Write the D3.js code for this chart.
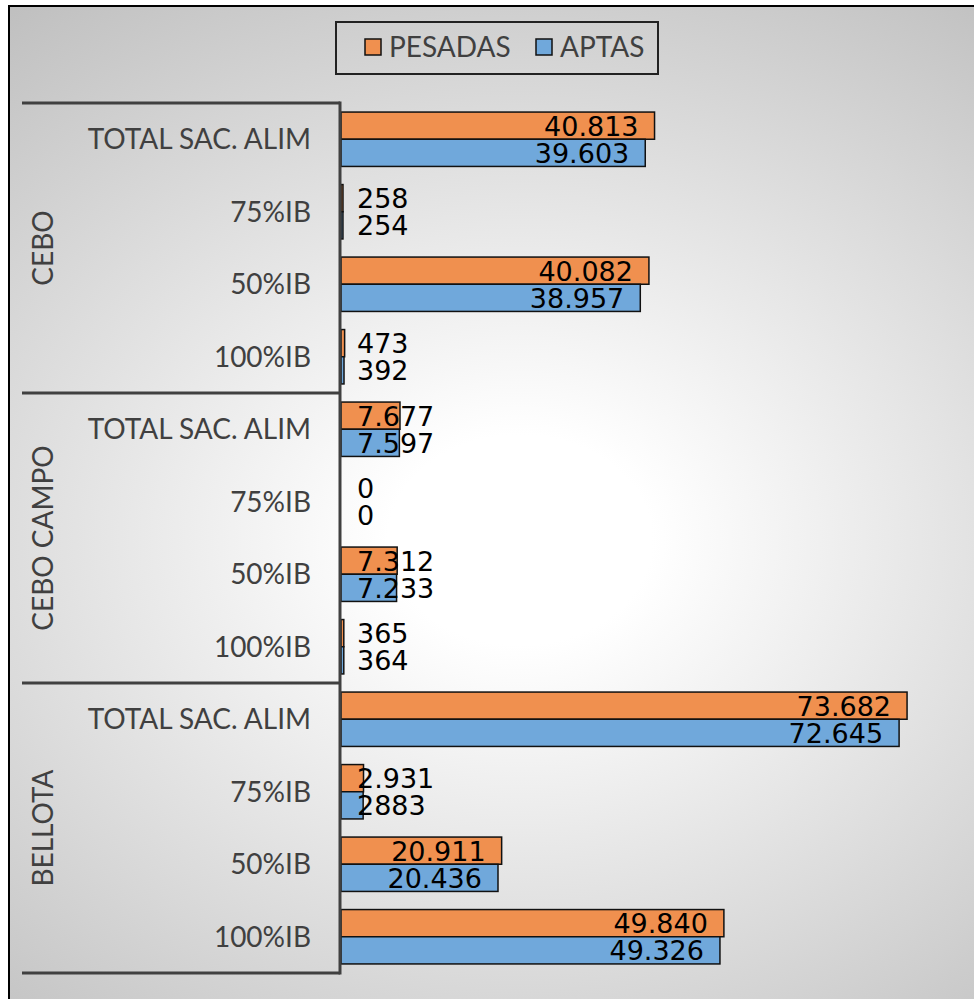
<!DOCTYPE html>
<html><head><meta charset="utf-8">
<script src="https://cdn.jsdelivr.net/npm/d3@7"></script>
<style>html,body{margin:0;padding:0;background:#fff;overflow:hidden}</style>
</head><body>
<svg id="c" width="974" height="999"></svg>
<script>
const groups = ["CEBO", "CEBO CAMPO", "BELLOTA"];
const categories = ["TOTAL SAC. ALIM", "75%IB", "50%IB", "100%IB"];
const series = ["PESADAS", "APTAS"];
// values per group, in category order
const pesadas = {
  "CEBO": [40813, 258, 40082, 473],
  "CEBO CAMPO": [7677, 0, 7312, 365],
  "BELLOTA": [73682, 2931, 20911, 49840]
};
const aptas = {
  "CEBO": [39603, 254, 38957, 392],
  "CEBO CAMPO": [7597, 0, 7233, 364],
  "BELLOTA": [72645, 2883, 20436, 49326]
};
const pesadasLabels = {
  "CEBO": ["40.813", "258", "40.082", "473"],
  "CEBO CAMPO": ["7.677", "0", "7.312", "365"],
  "BELLOTA": ["73.682", "2.931", "20.911", "49.840"]
};
const aptasLabels = {
  "CEBO": ["39.603", "254", "38.957", "392"],
  "CEBO CAMPO": ["7.597", "0", "7.233", "364"],
  "BELLOTA": ["72.645", "2883", "20.436", "49.326"]
};
const colors = {"PESADAS": "#F0904F", "APTAS": "#70A8DB"};
const xMax = 80000;

const svg = d3.select("#c");
const defs = svg.append("defs");
const grad = defs.append("radialGradient").attr("id", "bg")
  .attr("gradientUnits", "userSpaceOnUse").attr("cx", 0).attr("cy", 0).attr("r", 1)
  .attr("gradientTransform", "translate(520,540) scale(880,700)");
grad.append("stop").attr("offset", 0).attr("stop-color", "#ffffff");
grad.append("stop").attr("offset", 0.15).attr("stop-color", "#ffffff");
grad.append("stop").attr("offset", 1).attr("stop-color", "#bcbcbc");

svg.append("rect").attr("x", 9).attr("y", 6).attr("width", 1000).attr("height", 1020)
  .attr("fill", "url(#bg)").attr("stroke", "#000").attr("stroke-width", 2);

const x0 = 341;
const x = d3.scaleLinear().domain([0, xMax]).range([x0, x0 + 614.6]);

const rows = [];
groups.forEach(g => categories.forEach((c, i) => rows.push({g, c, i, key: g + "|" + c})));

const yTop = 103, yBot = 973;
const yRow = d3.scaleBand().domain(rows.map(r => r.key)).range([yTop, yBot])
  .paddingInner(0.25).paddingOuter(0.125);
const ySer = d3.scaleBand().domain(series).range([0, yRow.bandwidth()]);
const yGroup = d3.scaleBand().domain(groups).range([yTop, yBot]);
const step = yRow.step();

const textCol = "#404040";

// bars
const barData = [];
rows.forEach(r => {
  series.forEach(s => {
    const v = s === "PESADAS" ? pesadas[r.g][r.i] : aptas[r.g][r.i];
    const lab = s === "PESADAS" ? pesadasLabels[r.g][r.i] : aptasLabels[r.g][r.i];
    barData.push({r, s, v, lab});
  });
});

const bars = svg.append("g");
bars.selectAll("rect").data(barData.filter(d => d.v > 0)).join("rect")
  .attr("x", x(0))
  .attr("y", d => yRow(d.r.key) + ySer(d.s))
  .attr("width", d => x(d.v) - x(0))
  .attr("height", ySer.bandwidth())
  .attr("fill", d => colors[d.s])
  .attr("stroke", "#111").attr("stroke-width", 1.5);

// data labels
const labG = svg.append("g").attr("font-family", "DejaVu Sans").attr("font-size", 27).attr("fill", "#000");
labG.selectAll("text").data(barData).join("text")
  .text(d => d.lab)
  .attr("y", d => yRow(d.r.key) + ySer(d.s) + ySer.bandwidth() / 2 + 10)
  .attr("text-anchor", "end")
  .each(function(d) {
    const w = this.getComputedTextLength();
    const right = Math.max(x(d.v) - 16, x0 + 16 + w);
    d3.select(this).attr("x", right);
  });

// axis & separators
const axG = svg.append("g").attr("stroke", "#404040").attr("stroke-width", 3);
axG.append("line").attr("x1", 340).attr("x2", 340).attr("y1", yTop - 1.5).attr("y2", yBot + 1.5);
const seps = groups.map(g => yGroup(g)).concat([yBot]);
axG.selectAll("line.sep").data(seps).join("line").attr("class", "sep")
  .attr("x1", 22).attr("x2", 340).attr("y1", d => d).attr("y2", d => d);

// category labels
svg.append("g").attr("font-family", "Lato").attr("font-size", 28).attr("fill", textCol)
  .selectAll("text").data(rows).join("text")
  .attr("x", 311).attr("y", d => yRow(d.key) + yRow.bandwidth() / 2 + 10)
  .attr("text-anchor", "end").text(d => d.c);

// group labels
svg.append("g").attr("font-family", "Lato").attr("font-size", 28).attr("fill", textCol)
  .selectAll("text").data(groups).join("text")
  .attr("transform", g => `translate(53,${yGroup(g) + yGroup.bandwidth() / 2}) rotate(-90)`)
  .attr("text-anchor", "middle").text(g => g);

// legend
const lg = svg.append("g");
lg.append("rect").attr("x", 336).attr("y", 22).attr("width", 322).attr("height", 52)
  .attr("fill", "none").attr("stroke", "#222").attr("stroke-width", 2);
const legItems = [{s: "PESADAS", x: 365}, {s: "APTAS", x: 536}];
legItems.forEach(it => {
  lg.append("rect").attr("x", it.x).attr("y", 39).attr("width", 16).attr("height", 16)
    .attr("fill", colors[it.s]).attr("stroke", "#111").attr("stroke-width", 1.5);
  lg.append("text").attr("x", it.x + 24).attr("y", 57).attr("font-family", "Lato")
    .attr("font-size", 28).attr("fill", textCol).text(it.s);
});
</script>
</body></html>
